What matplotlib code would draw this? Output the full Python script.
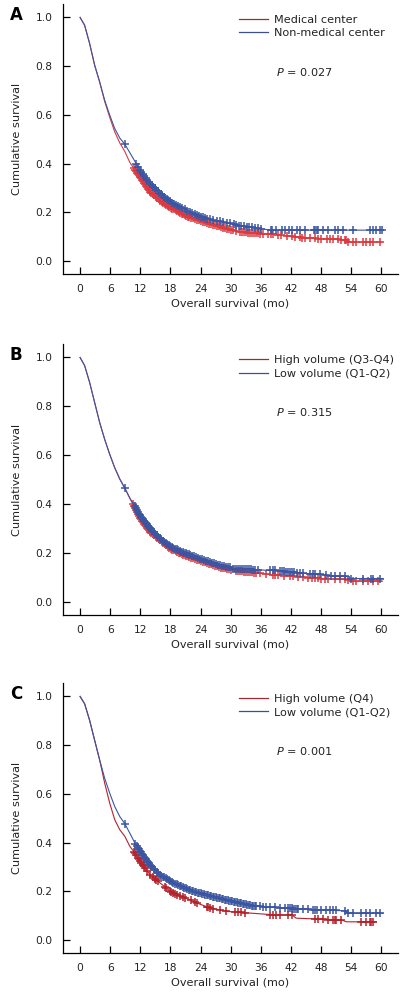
import numpy as np
import matplotlib
matplotlib.use("Agg")
import matplotlib.pyplot as plt
from matplotlib.lines import Line2D

plt.rcParams['font.family'] = ['DejaVu Sans']
plt.rcParams['mathtext.fontset'] = 'dejavusans'

# ---------------- Panel A ----------------
a_labels = ["Medical center", "Non-medical center"]
a_p = "0.027"
a_red_t = [0, 0.9, 1.9, 2.9, 3.9, 4.9, 5.9, 6.9, 7.9, 8.9, 9.9, 10.9, 11.9, 13.9, 15.9, 17.8,
           19.8, 21.8, 23.8, 25.8, 27.8, 29.8, 31.8, 35.8, 39.8, 43.7, 47.7, 50.4, 53.0, 53.1, 60.1]
a_red_s = [1.0, 0.968, 0.893, 0.804, 0.735, 0.655, 0.590, 0.530, 0.485, 0.450, 0.405, 0.374, 0.346,
           0.285, 0.250, 0.223, 0.198, 0.179, 0.166, 0.152, 0.141, 0.130, 0.120, 0.113, 0.107,
           0.097, 0.092, 0.089, 0.088, 0.078, 0.078]
a_blue_t = [0, 0.9, 1.9, 2.9, 3.9, 4.9, 5.9, 6.9, 7.9, 8.9, 10.9, 11.9, 13.9, 15.9, 17.8, 19.8,
            21.8, 23.8, 25.8, 29.8, 31.8, 35.8, 37.8, 60.3]
a_blue_s = [1.0, 0.968, 0.893, 0.804, 0.735, 0.660, 0.599, 0.544, 0.505, 0.480, 0.410, 0.374,
            0.319, 0.278, 0.246, 0.223, 0.202, 0.185, 0.171, 0.155, 0.145, 0.134, 0.127, 0.127]
a_red_c = [10.7, 10.9, 11.1, 11.3, 11.5, 11.7, 11.9, 12.1, 12.3, 12.5, 12.7, 12.9, 13.1, 13.3,
           13.5, 13.7, 13.9, 14.2, 14.5, 14.8, 15.1, 15.4, 15.7, 16.0, 16.3, 16.6, 16.9, 17.2,
           17.5, 17.8, 18.1, 18.4, 18.7, 19.0, 19.3, 19.6, 19.9, 20.2, 20.5, 20.8, 21.1, 21.4,
           21.7, 22.0, 22.4, 22.8, 23.2, 23.6, 24.0, 24.4, 24.8, 25.2, 25.6, 26.0, 26.4, 26.8,
           27.2, 27.6, 28.0, 28.4, 28.8, 29.2, 29.6, 30.0, 30.5, 31.0, 31.8, 32.2, 32.6, 33.0,
           33.4, 33.8, 34.2, 34.6, 35.0, 35.4, 35.8, 36.4, 37.4, 38.1, 38.4, 39.4, 40.1, 41.1,
           42.1, 42.7, 43.7, 44.1, 44.7, 45.7, 46.7, 47.4, 48.0, 49.1, 49.7, 50.4, 51.4, 52.0,
           52.7, 53.0, 53.4, 54.4, 55.0, 56.3, 57.0, 57.7, 58.3, 59.7]
a_blue_c = [8.9, 11.2, 11.6, 11.9, 12.2, 12.5, 12.8, 13.1, 13.4, 13.7, 14.0, 14.3, 14.6, 14.9,
            15.2, 15.5, 15.8, 16.1, 16.4, 16.7, 17.0, 17.3, 17.6, 17.9, 18.3, 18.7, 19.1, 19.5,
            19.9, 20.3, 20.8, 21.3, 21.8, 22.3, 22.8, 23.3, 23.7, 24.1, 24.5, 24.9, 25.3, 25.8,
            26.5, 27.2, 27.8, 28.5, 29.2, 29.9, 30.6, 31.1, 31.6, 32.1, 32.6, 33.2, 33.7, 34.3,
            34.9, 35.4, 36.0, 38.0, 38.2, 39.1, 40.2, 40.8, 41.5, 42.2, 43.2, 43.8, 44.8, 46.5,
            46.8, 47.1, 47.4, 48.4, 49.4, 50.7, 51.4, 52.4, 54.4, 57.7, 58.4, 59.0, 59.7, 60.2]

# ---------------- Panel B ----------------
b_labels = ["High volume (Q3-Q4)", "Low volume (Q1-Q2)"]
b_p = "0.315"
b_red_t = [0, 0.9, 1.9, 2.9, 3.9, 4.9, 5.9, 6.9, 7.9, 8.9, 9.9, 10.9, 11.9, 13.9, 15.9, 17.9,
           19.9, 21.9, 23.9, 25.9, 27.9, 29.9, 30.5, 37.1, 38.4, 43.7, 47.7, 50.4, 53.6, 53.7, 60.2]
b_red_s = [1.0, 0.967, 0.898, 0.816, 0.734, 0.665, 0.604, 0.549, 0.503, 0.466, 0.425, 0.384,
           0.343, 0.288, 0.254, 0.219, 0.199, 0.182, 0.169, 0.155, 0.141, 0.133, 0.130, 0.114,
           0.110, 0.103, 0.096, 0.094, 0.092, 0.085, 0.085]
b_blue_t = [0, 0.9, 1.9, 2.9, 3.9, 4.9, 5.9, 6.9, 7.9, 8.9, 9.9, 10.9, 11.9, 13.9, 15.9, 17.9,
            19.9, 21.9, 23.9, 25.9, 27.9, 29.9, 30.5, 37.1, 38.4, 43.7, 47.7, 50.4, 53.6, 53.7, 60.3]
b_blue_s = [1.0, 0.967, 0.898, 0.816, 0.734, 0.665, 0.604, 0.549, 0.503, 0.466, 0.425, 0.391,
            0.354, 0.302, 0.261, 0.229, 0.208, 0.192, 0.178, 0.163, 0.150, 0.141, 0.137, 0.130,
            0.130, 0.119, 0.113, 0.106, 0.104, 0.096, 0.096]
b_red_c = [10.5, 10.7, 10.9, 11.1, 11.3, 11.5, 11.7, 11.9, 12.1, 12.3, 12.5, 12.7, 12.9, 13.1,
           13.3, 13.5, 13.7, 13.9, 14.2, 14.5, 14.8, 15.1, 15.4, 15.7, 16.0, 16.3, 16.6, 16.9,
           17.2, 17.5, 17.8, 18.1, 18.4, 18.7, 19.0, 19.3, 19.6, 19.9, 20.2, 20.5, 20.8, 21.1,
           21.4, 21.7, 22.0, 22.4, 22.8, 23.2, 23.6, 24.0, 24.4, 24.8, 25.2, 25.6, 26.0, 26.4,
           26.8, 27.2, 27.6, 28.0, 28.4, 28.8, 29.2, 29.6, 30.0, 31.1, 31.5, 31.9, 32.3, 32.7,
           33.1, 33.5, 33.9, 34.3, 34.7, 35.1, 35.8, 37.1, 38.4, 38.8, 39.4, 40.7, 41.7, 42.4,
           43.4, 44.4, 45.4, 46.1, 46.7, 47.4, 48.0, 48.7, 49.4, 50.7, 51.7, 52.7, 53.4, 54.4,
           55.0, 56.3, 57.3, 58.3, 59.3]
b_blue_c = [8.9, 10.9, 11.1, 11.3, 11.5, 11.7, 11.9, 12.1, 12.3, 12.5, 12.7, 12.9, 13.1, 13.3,
            13.5, 13.7, 13.9, 14.1, 14.4, 14.7, 15.0, 15.3, 15.6, 15.9, 16.2, 16.5, 16.8, 17.1,
            17.4, 17.7, 18.0, 18.3, 18.6, 18.9, 19.2, 19.5, 19.8, 20.1, 20.4, 20.7, 21.0, 21.3,
            21.6, 21.9, 22.3, 22.7, 23.1, 23.5, 23.9, 24.3, 24.7, 25.1, 25.5, 25.9, 26.3, 26.7,
            27.1, 27.5, 27.9, 28.3, 28.7, 29.1, 29.5, 29.8, 30.5, 30.9, 31.3, 31.7, 32.1, 32.5,
            32.9, 33.3, 33.7, 34.1, 34.5, 34.9, 35.4, 37.8, 38.4, 38.8, 39.8, 40.2, 40.6, 41.0,
            41.4, 41.8, 42.2, 42.6, 43.1, 43.7, 44.4, 45.7, 46.4, 46.7, 47.7, 49.0, 50.0, 50.7,
            51.7, 52.7, 54.0, 56.3, 58.0, 58.3, 59.7]

# ---------------- Panel C ----------------
c_labels = ["High volume (Q4)", "Low volume (Q1-Q2)"]
c_p = "0.001"
c_red_t = [0, 0.9, 1.9, 2.9, 3.9, 4.9, 5.9, 6.9, 7.9, 8.9, 9.9, 10.9, 11.9, 13.9, 15.9, 17.9,
           19.9, 21.9, 23.9, 25.9, 27.8, 29.1, 34.4, 37.7, 42.3, 43.0, 47.7, 52.3, 53.0, 59.0]
c_red_s = [1.0, 0.970, 0.902, 0.820, 0.739, 0.644, 0.562, 0.494, 0.453, 0.426, 0.385, 0.358,
           0.324, 0.269, 0.235, 0.201, 0.181, 0.165, 0.147, 0.132, 0.124, 0.118, 0.110, 0.105,
           0.102, 0.090, 0.086, 0.081, 0.075, 0.075]
c_blue_t = [0, 0.9, 1.9, 2.9, 3.9, 4.9, 5.9, 6.9, 7.9, 8.9, 9.9, 10.9, 11.9, 13.9, 15.9, 17.9,
            19.9, 21.9, 23.9, 25.9, 27.9, 29.9, 34.4, 41.0, 47.7, 53.0, 53.1, 60.3]
c_blue_s = [1.0, 0.970, 0.902, 0.820, 0.739, 0.664, 0.603, 0.548, 0.507, 0.478, 0.439, 0.399,
            0.365, 0.310, 0.269, 0.242, 0.222, 0.205, 0.192, 0.181, 0.171, 0.161, 0.140, 0.131,
            0.124, 0.120, 0.110, 0.110]
c_red_c = [10.7, 10.9, 11.2, 11.5, 11.7, 11.9, 12.2, 12.5, 12.7, 12.9, 13.3, 13.9, 14.5, 14.9,
           15.2, 15.5, 16.9, 17.2, 17.9, 18.2, 18.5, 18.9, 19.3, 19.9, 20.5, 20.9, 22.1, 22.9,
           23.2, 25.2, 25.5, 25.9, 26.5, 27.8, 29.1, 30.8, 31.5, 32.1, 32.8, 37.8, 38.4, 39.1,
           39.8, 41.4, 42.1, 46.7, 47.4, 48.4, 49.4, 50.4, 50.7, 51.0, 52.0, 56.0, 57.0, 57.7,
           58.0, 58.3]
c_blue_c = [8.9, 11.0, 11.3, 11.5, 11.7, 11.9, 12.1, 12.3, 12.5, 12.7, 12.9, 13.1, 13.3, 13.5,
            13.7, 13.9, 14.1, 14.4, 14.7, 15.0, 15.3, 15.6, 15.9, 16.2, 16.5, 16.8, 17.1, 17.4,
            17.7, 18.0, 18.3, 18.6, 18.9, 19.2, 19.5, 19.8, 20.1, 20.4, 20.7, 21.0, 21.3, 21.6,
            21.9, 22.2, 22.5, 22.8, 23.1, 23.4, 23.7, 24.0, 24.3, 24.6, 24.9, 25.2, 25.5, 25.8,
            26.1, 26.4, 26.7, 27.0, 27.3, 27.6, 27.9, 28.2, 28.5, 28.8, 29.1, 29.4, 29.7, 30.0,
            30.3, 30.6, 30.9, 31.2, 31.5, 31.8, 32.1, 32.4, 32.7, 33.0, 33.3, 33.6, 33.9, 34.2,
            34.5, 34.8, 35.1, 35.8, 36.4, 37.1, 37.8, 38.8, 39.8, 40.8, 41.4, 41.8, 42.1, 42.4,
            42.7, 43.1, 43.4, 44.4, 45.4, 46.4, 46.7, 47.1, 48.0, 49.0, 49.7, 50.4, 51.0, 52.7,
            53.4, 54.4, 56.0, 57.0, 57.7, 59.0, 59.7]

x_ticks = [0, 6, 12, 18, 24, 30, 36, 42, 48, 54, 60]
y_ticks = [0.0, 0.2, 0.4, 0.6, 0.8, 1.0]
panel_letters = ["A", "B", "C"]

panels = [
    (a_red_t, a_red_s, a_red_c, a_blue_t, a_blue_s, a_blue_c, a_labels, a_p, "#dc3a40"),
    (b_red_t, b_red_s, b_red_c, b_blue_t, b_blue_s, b_blue_c, b_labels, b_p, "#d83c42"),
    (c_red_t, c_red_s, c_red_c, c_blue_t, c_blue_s, c_blue_c, c_labels, c_p, "#b4232c"),
]
blue_col = "#3a55a2"
leg_red = "#a02a30"
leg_blue = "#3b5090"
txt = "#222222"
fs = 8.1

fig = plt.figure(figsize=(4.1, 10), dpi=100)
# axes boxes in figure pixels: (top, bottom)
boxes = [(4, 274), (344, 615), (683, 953)]
left_px, right_px = 63, 398

for i, (rt, rs, rc, bt, bs, bc, labels, pval, rcol) in enumerate(panels):
    top, bot = boxes[i]
    ax = fig.add_axes([left_px / 410, 1 - bot / 1000, (right_px - left_px) / 410, (bot - top) / 1000])
    ax.plot(rt, rs, color=rcol, lw=0.8, zorder=2)
    ax.plot(bt, bs, color=blue_col, lw=0.8, zorder=3)
    ax.plot(rc, np.interp(rc, rt, rs), ls='none', marker='+', ms=5.5, mew=1.1, color=rcol, zorder=2)
    ax.plot(bc, np.interp(bc, bt, bs), ls='none', marker='+', ms=5.5, mew=1.1, color=blue_col, zorder=3)

    ax.set_xlim(-3.4, 63.3)
    ax.set_ylim(-0.053, 1.055)
    ax.set_xticks(x_ticks)
    ax.set_yticks(y_ticks)
    ax.set_yticklabels([f"{v:.1f}" for v in y_ticks])
    for s in ['top', 'right']:
        ax.spines[s].set_visible(False)
    for s in ['left', 'bottom']:
        ax.spines[s].set_linewidth(0.9)
    ax.tick_params(direction='in', length=5, width=0.9, labelsize=7.7, pad=7.5, colors='black',
                   labelcolor=txt)
    ax.set_xlabel("Overall survival (mo)", fontsize=fs, color=txt, labelpad=3)
    ax.set_ylabel("Cumulative survival", fontsize=fs, color=txt, labelpad=10)

    handles = [Line2D([0], [0], color=leg_red, lw=0.9), Line2D([0], [0], color=leg_blue, lw=0.9)]
    ax.legend(handles, labels, loc='upper left', bbox_to_anchor=(0.525, 0.96), frameon=False,
              fontsize=fs, handlelength=2.6, handletextpad=0.55, labelspacing=0.32,
              borderpad=0, borderaxespad=0, labelcolor=txt)
    ax.text(0.636, 0.748, r"$\it{P}$ = " + pval, transform=ax.transAxes, fontsize=fs,
            color=txt, va='center', ha='left')
    fig.text(16 / 410, 1 - (top + 11) / 1000, panel_letters[i], fontsize=12, fontweight='bold',
             ha='center', va='center', color='black')

fig.savefig("out.png", dpi=100)
